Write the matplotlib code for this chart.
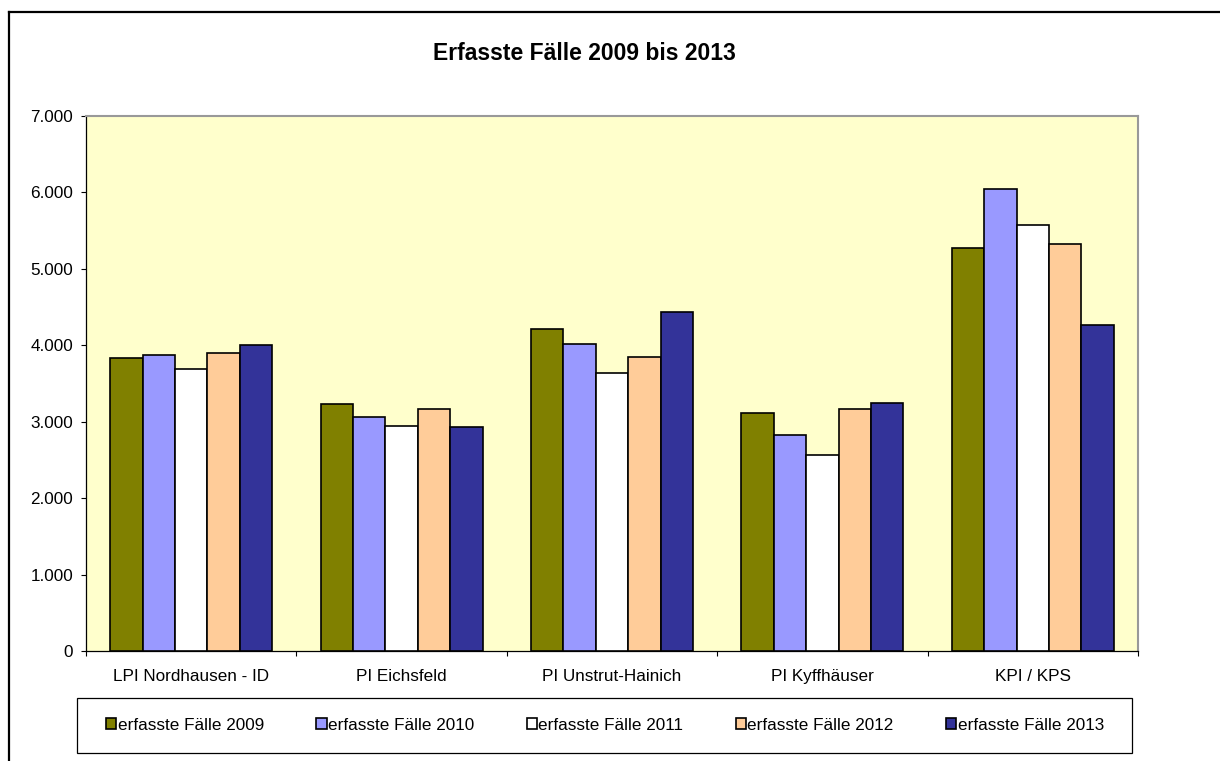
import matplotlib
matplotlib.use("Agg")
import matplotlib.pyplot as plt
from matplotlib.lines import Line2D
from matplotlib.patches import Rectangle
from matplotlib.ticker import FuncFormatter
import numpy as np

plt.rcParams['font.family'] = ['Liberation Sans', 'DejaVu Sans']

categories = ['LPI Nordhausen - ID', 'PI Eichsfeld', 'PI Unstrut-Hainich',
              'PI Kyffhäuser', 'KPI / KPS']
series_names = ['erfasste Fälle 2009', 'erfasste Fälle 2010', 'erfasste Fälle 2011',
                'erfasste Fälle 2012', 'erfasste Fälle 2013']
f2009 = [3840, 3230, 4210, 3120, 5270]
f2010 = [3870, 3060, 4020, 2820, 6040]
f2011 = [3690, 2940, 3640, 2560, 5570]
f2012 = [3900, 3170, 3850, 3170, 5320]
f2013 = [4000, 2930, 4430, 3240, 4260]
colors = ['#808000', '#9999FF', '#FFFFFF', '#FFCC99', '#333399']

W, H = 1220, 761
fig = plt.figure(figsize=(W / 100, H / 100), dpi=100)
ax = fig.add_axes([86 / W, 1 - 651 / H, (1138 - 86) / W, (651 - 116) / H])
ax.set_facecolor('#FFFFCC')

x = np.arange(len(categories))
w = 1 / 6.5
handles = []
for j, (vals, c) in enumerate(zip([f2009, f2010, f2011, f2012, f2013], colors)):
    b = ax.bar(x + (j - 2) * w, vals, width=w, color=c, edgecolor='black',
               linewidth=1.2, label=series_names[j], zorder=3)
    handles.append(b)

ax.set_xlim(-0.5, len(categories) - 0.5)
ax.set_ylim(0, 7000)
ax.set_yticks(np.arange(0, 7001, 1000))
ax.yaxis.set_major_formatter(FuncFormatter(lambda v, p: f"{int(v):,}".replace(",", ".")))
ax.set_xticks(np.arange(-0.5, len(categories), 1))
ax.set_xticklabels([])
ax.set_xticks(x, minor=True)
ax.set_xticklabels(categories, minor=True)
ax.tick_params(axis='x', which='major', length=3.6, width=0.8, direction='out')
ax.tick_params(axis='x', which='minor', length=0, pad=13, labelsize=12.3)
ax.tick_params(axis='y', length=3.6, width=0.8, pad=5.5, labelsize=12.3)

for s in ['top', 'right']:
    ax.spines[s].set_color('#999999')
    ax.spines[s].set_linewidth(1.5)
for s in ['left', 'bottom']:
    ax.spines[s].set_color('black')
    ax.spines[s].set_linewidth(0.9)

fig.text(584 / W, 1 - 53 / H, 'Erfasste Fälle 2009 bis 2013', ha='center', va='center',
         fontsize=16.5, fontweight='bold')

# legend box
fig.add_artist(Rectangle((77 / W, 1 - 752.7 / H), (1132 - 77) / W, 55 / H,
                         transform=fig.transFigure, facecolor='white',
                         edgecolor='black', linewidth=0.9, zorder=1))
fig.legend(handles=handles, loc='center left', ncol=5, mode='expand',
           bbox_to_anchor=(106 / W, 1 - 725 / H, (1104 - 106) / W, 0),
           frameon=False, borderpad=0, borderaxespad=0, fontsize=12.3,
           handlelength=0.6, handleheight=0.6, handletextpad=0.1)

# outer chart frame (cropped at right/bottom)
fig.add_artist(Line2D([9 / W, 1], [1 - 12 / H, 1 - 12 / H], transform=fig.transFigure,
                      color='black', linewidth=1.6))
fig.add_artist(Line2D([9 / W, 9 / W], [1 - 12 / H, 0], transform=fig.transFigure,
                      color='black', linewidth=1.6))

fig.savefig('out.png', dpi=100)
